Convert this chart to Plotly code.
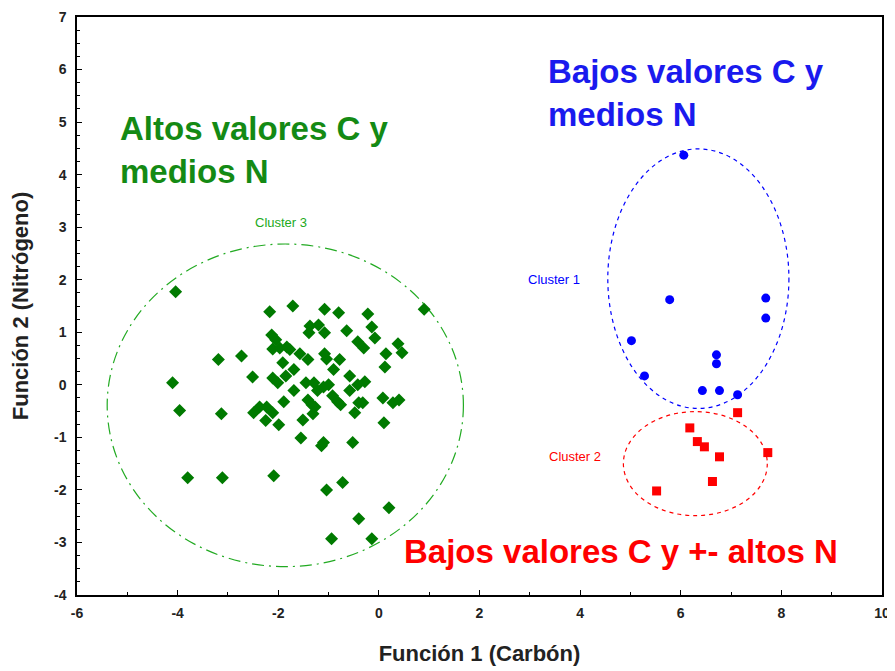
import numpy as np
import plotly.graph_objects as go

# ---- data ----
c3_x = [-4.04, -2.17, -1.71, -1.08, -0.80, -1.37, -1.20, -1.39, -1.08, -0.64, -0.42, -2.13, -2.05,
        -2.11, -1.97, -1.83, -1.77, -1.57, -1.41, -1.08, -1.04, -0.78, -1.91, -1.69, -0.90, -0.22,
        0.90, -0.14, -0.08, -0.30, 0.38, 0.46, 0.14, 0.12, -3.19, -2.73, -4.10, -3.96, -3.13, -2.51,
        -2.49, -2.37, -2.23, -2.11, -2.11, -2.01, -1.85, -1.45, -1.29, -0.58, -1.69, -1.22, -1.10,
        -1.00, -0.58, -0.92, -0.82, -0.76, -1.89, -1.41, -1.33, -1.27, -2.25, -1.99, -1.51, -1.31,
        -0.48, -0.40, -1.55, -1.14, -1.10, -0.52, -0.42, -0.28, -0.32, 0.08, 0.28, 0.40, 0.10,
        -3.80, -3.11, -2.09, -1.04, -0.72, 0.20, -0.40, -0.94, -0.14]
c3_y = [1.77, 1.39, 1.50, 1.44, 1.37, 1.12, 1.14, 0.99, 0.99, 1.03, 0.82, 0.95, 0.86,
        0.68, 0.70, 0.72, 0.67, 0.59, 0.48, 0.59, 0.49, 0.48, 0.42, 0.29, 0.29, 1.35,
        1.44, 1.10, 0.89, 0.70, 0.78, 0.61, 0.59, 0.34, 0.48, 0.55, 0.04, -0.49, -0.55, 0.15,
        -0.53, -0.42, -0.42, -0.53, 0.13, 0.04, 0.17, 0.04, 0.04, 0.17, -0.11, -0.11, -0.04,
        0.00, -0.11, -0.21, -0.32, -0.38, -0.32, -0.29, -0.38, -0.42, -0.68, -0.76, -0.67, -0.55,
        -0.53, -0.34, -1.01, -1.16, -1.10, -1.10, 0.00, 0.06, -0.34, -0.25, -0.34, -0.29, -0.72,
        -1.77, -1.77, -1.73, -2.00, -1.86, -2.34, -2.55, -2.93, -2.93]

c1_x = [6.06, 5.78, 7.69, 7.69, 5.02, 5.28, 6.71, 6.71, 6.43, 6.77, 7.13]
c1_y = [4.37, 1.62, 1.65, 1.27, 0.84, 0.17, 0.57, 0.40, -0.11, -0.11, -0.19]

c2_x = [7.13, 6.18, 6.33, 6.47, 6.77, 7.73, 6.63, 5.52]
c2_y = [-0.53, -0.82, -1.08, -1.18, -1.37, -1.29, -1.84, -2.02]

# ellipse parameters: center x, center y, radius x, radius y
ell_c1 = [6.35, 2.02, 1.80, 2.47]
ell_c2 = [6.29, -1.50, 1.43, 0.99]
ell_c3 = [-1.86, -0.39, 3.54, 3.07]

x_ticks = [-6, -4, -2, 0, 2, 4, 6, 8, 10]
y_ticks = [-4, -3, -2, -1, 0, 1, 2, 3, 4, 5, 6, 7]

GREEN = "#007a00"
BLUE = "#0000ff"
RED = "#ff0000"
FONT = "Liberation Sans, Arial"

fig = go.Figure()
fig.add_trace(go.Scatter(x=c3_x, y=c3_y, mode="markers",
                         marker=dict(symbol="diamond", size=10, color=GREEN), showlegend=False))
fig.add_trace(go.Scatter(x=c1_x, y=c1_y, mode="markers",
                         marker=dict(symbol="circle", size=9, color=BLUE), showlegend=False))
fig.add_trace(go.Scatter(x=c2_x, y=c2_y, mode="markers",
                         marker=dict(symbol="square", size=9, color=RED), showlegend=False))

def ell(p, color, dash, width=1.2):
    cx, cy, rx, ry = p
    fig.add_shape(type="circle", xref="x", yref="y", x0=cx - rx, x1=cx + rx, y0=cy - ry, y1=cy + ry,
                  line=dict(color=color, dash=dash, width=width), layer="below")

ell(ell_c1, BLUE, "4px,4px")
ell(ell_c2, RED, "4px,4px")
ell(ell_c3, "#22aa22", "12px,5px,2px,5px")

big = dict(family=FONT, size=33, weight="bold")
fig.add_annotation(x=-5.18, y=4.47, xref="x", yref="y", text="Altos valores C y<br>medios N",
                   showarrow=False, xanchor="left", yanchor="middle", align="left",
                   font=dict(color="#148a14", **big))
fig.add_annotation(x=3.33, y=5.56, xref="x", yref="y", text="Bajos valores C y<br>medios N",
                   showarrow=False, xanchor="left", yanchor="middle", align="left",
                   font=dict(color="#1a1aee", **big))
fig.add_annotation(x=0.45, y=-3.17, xref="x", yref="y", text="Bajos valores C y +- altos N",
                   showarrow=False, xanchor="left", yanchor="middle", align="left",
                   font=dict(color=RED, **big))

small = dict(family=FONT, size=13)
fig.add_annotation(x=-1.95, y=3.08, text="Cluster 3", showarrow=False, font=dict(color="#22aa22", **small))
fig.add_annotation(x=3.48, y=2.0, text="Cluster 1", showarrow=False, font=dict(color=BLUE, **small))
fig.add_annotation(x=3.9, y=-1.37, text="Cluster 2", showarrow=False, font=dict(color=RED, **small))

axis_common = dict(showline=True, linecolor="black", linewidth=1.5, mirror=True, showgrid=False,
                   zeroline=False, ticks="inside", ticklen=5, tickcolor="black", automargin=False,
                   tickfont=dict(family=FONT, size=14, color="#222", weight="bold"))
title_font = dict(family=FONT, size=22, color="#222", weight="bold")
fig.update_xaxes(range=[-6, 10], tickvals=x_ticks, ticktext=[str(v) for v in x_ticks],
                 minor=dict(dtick=1, ticks="inside", ticklen=3, tickcolor="black"),
                 ticklabelstandoff=4,
                 title=dict(text="Función 1 (Carbón)", font=title_font, standoff=26),
                 **axis_common)
fig.update_yaxes(range=[-4, 7], tickvals=y_ticks, ticktext=[str(v) for v in y_ticks],
                 minor=dict(dtick=0.25, ticks="inside", ticklen=3, tickcolor="black"),
                 ticklabelstandoff=6,
                 title=dict(text="Función 2 (Nitrógeno)", font=title_font, standoff=19),
                 **axis_common)
# the page body adds an 8px offset, so the figure is sized to fit inside the window
fig.update_layout(width=887, height=663, margin=dict(l=69, r=13, t=9, b=76, autoexpand=False),
                  plot_bgcolor="white", paper_bgcolor="white", font=dict(family=FONT))
fig.write_html("out.html")
